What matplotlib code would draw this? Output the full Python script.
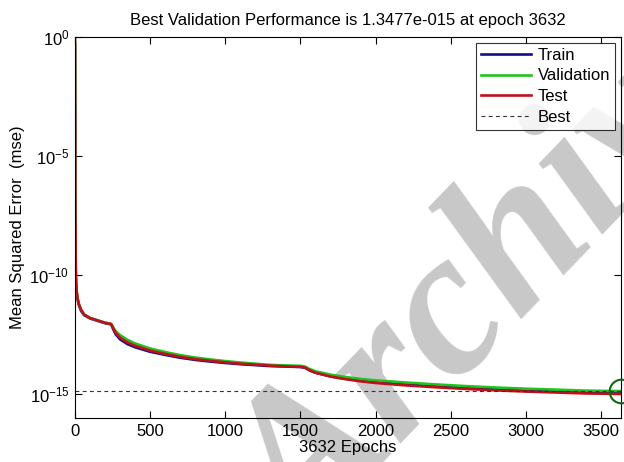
import matplotlib
matplotlib.use("Agg")
import matplotlib.pyplot as plt
import numpy as np

plt.rcParams['font.family'] = ['Liberation Sans', 'DejaVu Sans']
plt.rcParams['mathtext.fontset'] = 'custom'
plt.rcParams['mathtext.rm'] = 'Liberation Sans'
plt.rcParams['mathtext.it'] = 'Liberation Sans:italic'

epochs = [0, 1, 2, 3, 4, 5, 7, 10, 15, 25, 40, 60, 100, 150, 200, 240, 255, 270,
          300, 350, 400, 500, 600, 700, 800, 900, 1000, 1100, 1200, 1300, 1400,
          1500, 1530, 1560, 1600, 1700, 1800, 1900, 2000, 2200, 2400, 2600, 2800,
          3000, 3200, 3400, 3632]

val_log = [-0.2, -4.0, -7.5, -8.1, -8.5, -9.8, -10.3, -10.6, -10.9, -11.2, -11.45,
           -11.65, -11.8, -11.9, -12.0, -12.05, -12.2, -12.35, -12.52, -12.72,
           -12.87, -13.08, -13.23, -13.36, -13.46, -13.54, -13.61, -13.67, -13.72,
           -13.77, -13.79, -13.81, -13.84, -13.94, -14.04, -14.18, -14.28, -14.36,
           -14.42, -14.51, -14.59, -14.66, -14.72, -14.77, -14.81, -14.85, -14.87]

train_log = [-0.3, -4.2, -7.6, -8.2, -8.6, -9.9, -10.35, -10.65, -10.95, -11.25,
             -11.5, -11.68, -11.82, -11.92, -12.02, -12.07, -12.28, -12.48, -12.7,
             -12.9, -13.03, -13.22, -13.35, -13.47, -13.56, -13.63, -13.69, -13.74,
             -13.78, -13.82, -13.84, -13.86, -13.89, -14.0, -14.1, -14.25, -14.35,
             -14.43, -14.49, -14.58, -14.65, -14.72, -14.78, -14.83, -14.87, -14.9,
             -14.92]

test_log = [-0.05, -3.8, -7.4, -8.0, -8.4, -9.7, -10.25, -10.6, -10.9, -11.2, -11.45,
            -11.65, -11.8, -11.9, -12.0, -12.05, -12.24, -12.42, -12.63, -12.83,
            -12.97, -13.17, -13.31, -13.43, -13.53, -13.6, -13.66, -13.72, -13.76,
            -13.8, -13.83, -13.85, -13.88, -13.99, -14.1, -14.26, -14.37, -14.46,
            -14.53, -14.63, -14.71, -14.78, -14.84, -14.89, -14.93, -14.97, -14.99]

best_epoch = 3632
best_perf = 1.3477e-15

fig = plt.figure(figsize=(6.24, 4.62), dpi=100)
ax = fig.add_axes([75/624, 44/462, 546/624, 381/462])
ax.patch.set_alpha(0)

ep = np.array(epochs)
ax.plot(ep, 10.0**np.array(train_log), color='#10108a', lw=1.9, label='Train')
ax.plot(ep, 10.0**np.array(val_log), color='#1ec41e', lw=1.9, label='Validation')
ax.plot(ep, 10.0**np.array(test_log), color='#c01018', lw=1.9, label='Test')
ax.axhline(best_perf, color='#333333', lw=0.8, ls=(0, (3.5, 3)), label='Best')
ax.plot([best_epoch], [best_perf], marker='o', ms=17, mfc='none', mec='#0a6e0a',
        mew=1.5, clip_on=False, zorder=5)

ax.set_yscale('log')
ax.set_xlim(0, 3632)
ax.set_ylim(1e-16, 1e0)
ax.set_yticks([1e0, 1e-5, 1e-10, 1e-15])
ax.yaxis.set_minor_locator(matplotlib.ticker.NullLocator())
ax.set_xticks([0, 500, 1000, 1500, 2000, 2500, 3000, 3500])
ax.tick_params(direction='in', top=True, right=True, length=5, width=0.8,
               labelsize=12, pad=4)
for s in ax.spines.values():
    s.set_linewidth(0.8)

ax.set_title('Best Validation Performance is 1.3477e-015 at epoch 3632',
             fontsize=12, pad=9)
ax.set_xlabel('3632 Epochs', fontsize=12, labelpad=1)
ax.set_ylabel('Mean Squared Error  (mse)', fontsize=12, labelpad=3)

leg = ax.legend(loc='upper right', fontsize=12, frameon=True, fancybox=False,
                edgecolor='black', handlelength=3.0, labelspacing=0.34,
                borderpad=0.3, handletextpad=0.4, borderaxespad=0.35)
leg.get_frame().set_linewidth(0.8)

fig.text(0.805, 0.40, 'Archive', fontsize=150,
         family=['Liberation Serif', 'DejaVu Serif'],
         fontweight='bold', fontstyle='italic', color='#c8c8c8', rotation=46,
         rotation_mode='anchor', ha='center', va='center', zorder=-1)

fig.savefig('out.png', dpi=100)
